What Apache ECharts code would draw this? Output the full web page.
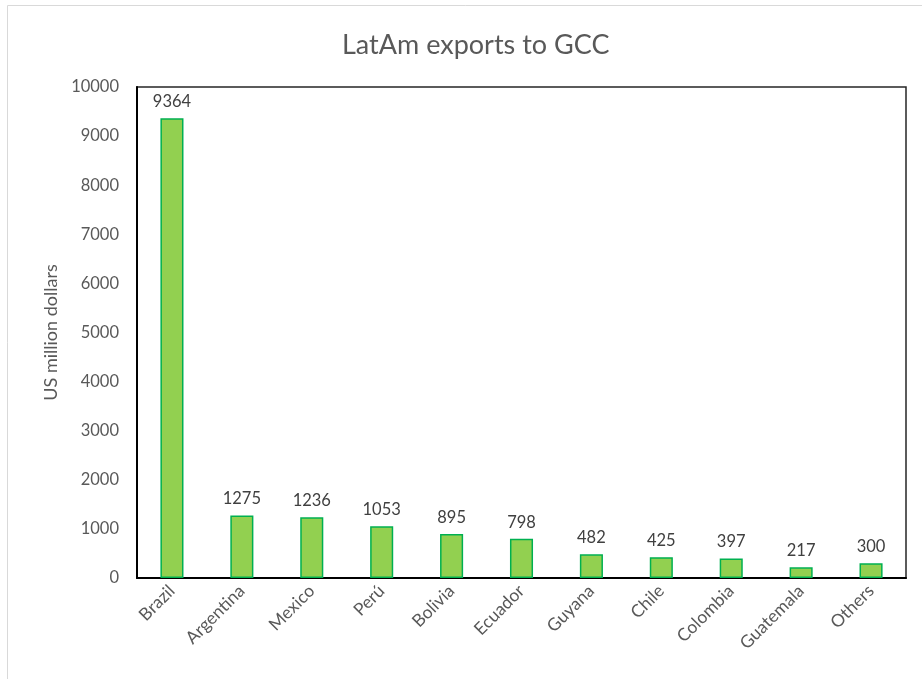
<!DOCTYPE html>
<html><head><meta charset="utf-8">
<script src="https://cdn.jsdelivr.net/npm/echarts@6/dist/echarts.min.js"></script>
<style>html,body{margin:0;padding:0;background:#fff}#c{width:922px;height:679px}</style>
</head><body><div id="c"></div>
<script>
const categories = ["Brazil","Argentina","Mexico","Perú","Bolivia","Ecuador","Guyana","Chile","Colombia","Guatemala","Others"];
const values = [9364,1275,1236,1053,895,798,482,425,397,217,300];
const yTicks = {min:0, max:10000, interval:1000};
const chart = echarts.init(document.getElementById('c'));
const font = 'Lato, "Open Sans", sans-serif';
chart.setOption({
  animation:false,
  textStyle:{fontFamily:font},
  graphic:[{type:'rect',shape:{x:7.5,y:5.5,width:920,height:680},style:{fill:'none',stroke:'#d9d9d9',lineWidth:1}}],
  title:{text:'LatAm exports to GCC',left:337,top:27,textStyle:{fontFamily:font,fontSize:27,fontWeight:'normal',color:'#595959'}},
  grid:{left:137,right:16,top:87,bottom:101,show:true,borderColor:'#262626',borderWidth:1.5},
  xAxis:{type:'category',data:categories,
    axisLine:{lineStyle:{color:'#000',width:2}},axisTick:{show:false},
    axisLabel:{rotate:45,fontSize:17.5,color:'#595959',fontFamily:font,margin:10,interval:0}},
  yAxis:{type:'value',min:yTicks.min,max:yTicks.max,interval:yTicks.interval,
    name:'US million dollars',nameLocation:'middle',nameGap:76,nameRotate:90,
    nameTextStyle:{fontSize:18,color:'#595959',fontFamily:font},
    axisLine:{show:true,lineStyle:{color:'#000',width:2}},axisTick:{show:false},splitLine:{show:false},
    axisLabel:{fontSize:16.5,color:'#595959',fontFamily:font,margin:18,formatter:v=>String(v)}},
  series:[{type:'bar',data:values,barWidth:'33%',
    itemStyle:{color:'#92d050',borderColor:'#00b050',borderWidth:1.5},
    label:{show:true,position:'top',distance:8,fontSize:16.5,color:'#404040',fontFamily:font}}]
});
</script></body></html>
